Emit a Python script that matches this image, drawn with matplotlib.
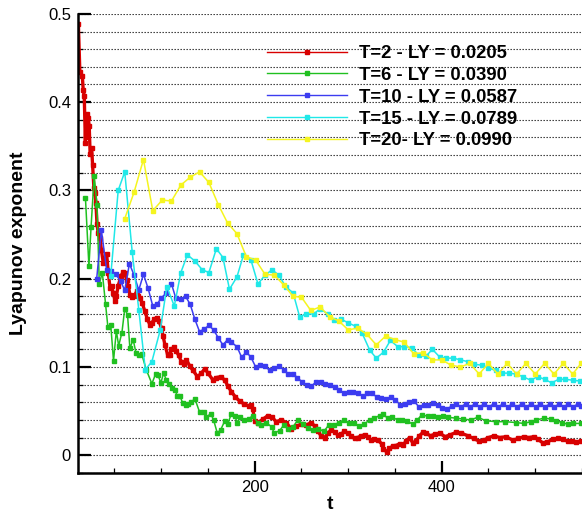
import numpy as np
import matplotlib
matplotlib.use("Agg")
import matplotlib.pyplot as plt
from matplotlib.ticker import MultipleLocator, FixedLocator

plt.rcParams["font.family"] = ["Liberation Sans", "DejaVu Sans"]

# ---- data ----
t_T2 = [11.4, 13, 15.6, 16.6, 17.7, 18.9, 19.5, 20.4, 20.9, 22, 23, 24, 25.6, 26.6, 28, 29,
        30.2, 31.3, 32.6, 34.5, 36, 38, 39.8, 41.6, 43.4, 45.2, 47, 48.7, 50.5, 52, 54, 57,
        59.4, 61, 63, 64.8, 66.5, 68.3, 70, 72, 74, 75.5, 77, 79.6, 82.5, 85.3, 87.8, 90,
        92.5, 95, 97.5, 100.4, 102, 104, 106.8, 109, 111, 114, 116, 118.8, 121.5, 124, 127,
        130.6, 134, 138.8, 143, 146.6, 150, 155.5, 159, 163.7, 168, 171.5, 175, 179.4, 184,
        189, 193.6, 196.5, 198, 200, 203.5, 209, 214.2, 218.5, 223, 228.5, 233.7, 239, 244.5,
        250, 255, 260.5, 264, 267.6, 271, 274.8, 278.3, 282, 285.5, 289, 292.5, 296, 299.5,
        303, 306.8, 310, 314, 317.5, 321, 324.6, 328, 332, 335.6, 337.5, 341, 344, 347.6, 351,
        355, 358.5, 362, 365.6, 369, 372.5, 376, 380, 383, 388, 393, 398, 403.5, 409, 415.5,
        421, 428, 434, 440, 445, 450, 456, 462, 468.8, 476, 482, 488, 493, 499, 503, 508, 513,
        518.6, 524, 529.4, 534.6, 539, 543.6, 549]
ly_T2 = [0.489, 0.434, 0.430, 0.414, 0.407, 0.354, 0.384, 0.361, 0.387, 0.382, 0.373, 0.341,
         0.348, 0.329, 0.303, 0.297, 0.286, 0.262, 0.252, 0.246, 0.233, 0.218, 0.220, 0.228,
         0.207, 0.190, 0.192, 0.184, 0.175, 0.180, 0.192, 0.203, 0.208, 0.206, 0.199, 0.192,
         0.182, 0.179, 0.180, 0.182, 0.186, 0.180, 0.178, 0.173, 0.163, 0.154, 0.148, 0.150,
         0.154, 0.156, 0.152, 0.144, 0.135, 0.125, 0.114, 0.113, 0.120, 0.123, 0.118, 0.113,
         0.106, 0.103, 0.108, 0.101, 0.096, 0.089, 0.093, 0.098, 0.093, 0.085, 0.088, 0.089,
         0.085, 0.078, 0.072, 0.066, 0.061, 0.058, 0.056, 0.057, 0.052, 0.039, 0.037, 0.041,
         0.045, 0.043, 0.038, 0.040, 0.037, 0.030, 0.033, 0.035, 0.034, 0.037, 0.033, 0.027,
         0.022, 0.020, 0.025, 0.029, 0.026, 0.023, 0.024, 0.027, 0.025, 0.022, 0.019, 0.020,
         0.022, 0.023, 0.021, 0.017, 0.018, 0.017, 0.013, 0.007, 0.004, 0.008, 0.010, 0.011,
         0.013, 0.012, 0.016, 0.020, 0.014, 0.016, 0.022, 0.026, 0.025, 0.022, 0.024, 0.025,
         0.021, 0.023, 0.026, 0.025, 0.022, 0.019, 0.016, 0.017, 0.020, 0.022, 0.020, 0.021,
         0.017, 0.019, 0.021, 0.020, 0.021, 0.018, 0.014, 0.015, 0.018, 0.019, 0.018, 0.016,
         0.016, 0.015, 0.016]

t_T6 = [19, 22.7, 25, 28.3, 31.3, 33.8, 37, 40.5, 43, 46, 49, 52, 54.5, 58, 61, 64, 66.5, 70,
        73, 76, 79, 84, 90, 94, 96.5, 99.6, 102.6, 105.6, 108.5, 111.7, 114.6, 117.4, 120,
        123, 126, 129, 132, 136, 141, 146, 148, 153, 156, 160, 163.7, 168, 171, 175, 178.9,
        181.5, 184, 189, 193.6, 198, 203, 207, 212.5, 218, 221, 226.7, 231, 235.5, 241, 246,
        251.6, 257, 262, 268, 274, 279, 284.7, 289.7, 295.4, 300.4, 306, 311, 316.7, 323, 328,
        333.5, 337, 342, 347, 353, 358, 363, 369, 374, 378.7, 385, 391, 396, 401, 407, 415,
        422.5, 431, 438.5, 447.5, 458, 468, 479.5, 488, 495, 501, 509.7, 517, 522, 529, 534.6,
        540, 549]
ly_T6 = [0.291, 0.214, 0.259, 0.316, 0.284, 0.194, 0.207, 0.171, 0.145, 0.148, 0.107, 0.141,
         0.124, 0.139, 0.166, 0.159, 0.121, 0.131, 0.116, 0.114, 0.115, 0.097, 0.081, 0.092,
         0.091, 0.082, 0.093, 0.085, 0.081, 0.076, 0.074, 0.067, 0.067, 0.059, 0.057, 0.058,
         0.060, 0.064, 0.049, 0.049, 0.043, 0.047, 0.040, 0.025, 0.029, 0.039, 0.035, 0.047,
         0.044, 0.036, 0.043, 0.040, 0.041, 0.045, 0.037, 0.034, 0.037, 0.032, 0.025, 0.028,
         0.034, 0.030, 0.032, 0.040, 0.035, 0.031, 0.029, 0.030, 0.027, 0.034, 0.034, 0.037,
         0.040, 0.037, 0.036, 0.033, 0.035, 0.040, 0.042, 0.045, 0.047, 0.042, 0.043, 0.040,
         0.040, 0.039, 0.035, 0.040, 0.046, 0.044, 0.045, 0.043, 0.045, 0.043, 0.042, 0.041,
         0.040, 0.043, 0.039, 0.038, 0.038, 0.037, 0.036, 0.038, 0.040, 0.042, 0.041, 0.039,
         0.037, 0.035, 0.036, 0.036]

t_T10 = [31, 36, 41.6, 46, 51.5, 56.6, 61, 66, 71, 76, 81, 86, 91, 95.5, 100, 105.6, 111,
         115.6, 121, 126, 131, 136, 141, 146, 151, 156, 161, 166, 171, 175, 181, 186, 191, 196,
         201, 206, 211, 216, 221, 226, 231, 236, 241, 245.6, 250.5, 255.5, 260.5, 265.5, 270.5,
         275.5, 280.5, 285.5, 290.5, 295.5, 300.5, 305.5, 310.5, 315.5, 320.5, 325.5, 330.5,
         335.5, 340.5, 345.5, 350.5, 355.5, 360.5, 365.5, 370.5, 375.5, 380.5, 385.5, 390.5,
         395.5, 400.5, 405.5, 410.5, 415.5, 420.5, 425.5, 430.5, 435.5, 440.5, 445.5, 450.5,
         455.5, 460.5, 465.5, 470.5, 475.5, 480.5, 485.5, 490.5, 495.5, 500.5, 505.5, 510.5,
         515.5, 520.5, 525.5, 530.5, 535.5, 540.5, 545.5, 549]
ly_T10 = [0.200, 0.255, 0.210, 0.209, 0.205, 0.197, 0.187, 0.217, 0.204, 0.187, 0.205, 0.189,
          0.169, 0.171, 0.178, 0.184, 0.194, 0.178, 0.177, 0.180, 0.171, 0.154, 0.140, 0.143,
          0.147, 0.142, 0.133, 0.125, 0.131, 0.128, 0.123, 0.111, 0.117, 0.111, 0.100, 0.102,
          0.101, 0.096, 0.099, 0.101, 0.097, 0.092, 0.092, 0.088, 0.083, 0.080, 0.078, 0.083,
          0.083, 0.081, 0.079, 0.077, 0.074, 0.070, 0.072, 0.072, 0.071, 0.067, 0.070, 0.070,
          0.066, 0.065, 0.064, 0.066, 0.063, 0.057, 0.058, 0.060, 0.061, 0.055, 0.057, 0.057,
          0.059, 0.057, 0.054, 0.0525, 0.0555, 0.058, 0.055, 0.058, 0.055, 0.058, 0.055, 0.058,
          0.055, 0.058, 0.055, 0.058, 0.055, 0.058, 0.055, 0.058, 0.055, 0.058, 0.055, 0.058,
          0.055, 0.058, 0.055, 0.058, 0.055, 0.058, 0.055, 0.058, 0.056]

t_T15 = [46, 54, 61, 69, 76, 83, 90, 99, 106, 114, 121, 128, 136, 144, 151, 159, 166, 173, 181,
         188, 196, 203.5, 211, 218.5, 226, 233, 241, 248, 255, 263, 270, 278, 285, 292.6, 300,
         308, 315, 323, 330, 338, 345, 353, 360, 368, 375.5, 383, 390, 398, 405, 412.5, 420,
         428, 435, 443, 450, 457.5, 464.5, 472, 479, 487, 495, 502.6, 510, 517.5, 525, 532,
         540, 548]
ly_T15 = [0.203, 0.300, 0.321, 0.230, 0.165, 0.097, 0.106, 0.142, 0.191, 0.169, 0.207, 0.227,
          0.220, 0.210, 0.207, 0.234, 0.224, 0.188, 0.202, 0.227, 0.221, 0.194, 0.204, 0.210,
          0.204, 0.191, 0.184, 0.157, 0.160, 0.160, 0.166, 0.160, 0.153, 0.154, 0.150, 0.146,
          0.138, 0.119, 0.110, 0.117, 0.130, 0.123, 0.123, 0.122, 0.113, 0.112, 0.120, 0.111,
          0.110, 0.110, 0.108, 0.106, 0.103, 0.102, 0.099, 0.096, 0.093, 0.093, 0.092, 0.089,
          0.085, 0.089, 0.086, 0.082, 0.086, 0.086, 0.085, 0.084]

t_T20 = [61, 71, 81, 91, 101, 111, 121, 131, 141, 151, 161, 171, 181, 191, 201, 211, 221, 231,
         241, 250, 260, 270, 280, 290, 300, 310, 320, 330, 340, 350, 360, 370, 380, 390, 400,
         410, 420, 430, 440, 450, 460, 470, 480, 490, 500, 510, 520, 530, 540, 549]
ly_T20 = [0.268, 0.298, 0.335, 0.277, 0.289, 0.288, 0.306, 0.315, 0.321, 0.309, 0.284, 0.263,
          0.251, 0.225, 0.221, 0.205, 0.204, 0.193, 0.180, 0.179, 0.164, 0.168, 0.157, 0.152,
          0.142, 0.144, 0.137, 0.125, 0.135, 0.131, 0.128, 0.115, 0.116, 0.108, 0.108, 0.102,
          0.100, 0.104, 0.092, 0.104, 0.092, 0.104, 0.092, 0.104, 0.092, 0.104, 0.092, 0.104,
          0.092, 0.104]

labels = ["T=2 - LY = 0.0205", "T=6 - LY = 0.0390", "T=10 - LY = 0.0587",
          "T=15 - LY = 0.0789", "T=20- LY = 0.0990"]
colors = ["#d80000", "#20c020", "#3c3cf0", "#20e8e8", "#f5f520"]


def main():
    fig = plt.figure(figsize=(5.82, 5.14), dpi=100)
    ax = fig.add_axes([0.134, 0.080, 0.866, 0.893])

    series = [(t_T2, ly_T2), (t_T6, ly_T6), (t_T10, ly_T10), (t_T15, ly_T15), (t_T20, ly_T20)]
    lws = [2.4, 1.1, 1.1, 1.1, 1.1]
    for (t, ly), lab, c, lw in zip(series, labels, colors, lws):
        ax.plot(t, ly, color=c, lw=lw, marker="s", ms=2.6, mec=c, mfc=c, label=lab)

    ax.set_xlim(11, 550)
    ax.set_ylim(-0.02, 0.5)

    # y ticks: major every 0.1, minor every 0.02, all inward
    ax.yaxis.set_major_locator(FixedLocator([0, 0.1, 0.2, 0.3, 0.4, 0.5]))
    ax.set_yticklabels(["0", "0.1", "0.2", "0.3", "0.4", "0.5"])
    ax.yaxis.set_minor_locator(MultipleLocator(0.02))
    ax.xaxis.set_major_locator(FixedLocator([200, 400]))
    ax.xaxis.set_minor_locator(MultipleLocator(50))
    ax.tick_params(which="major", direction="in", length=9, width=1.6, labelsize=12, pad=5)
    ax.tick_params(which="minor", direction="in", length=3.5, width=0.9)
    ax.tick_params(top=False, right=False, which="both")

    ax.yaxis.grid(True, which="both", color="#222222", ls=(0, (1.2, 1.5)), lw=0.8)
    ax.set_axisbelow(True)

    for s in ["top", "right"]:
        ax.spines[s].set_visible(False)
    for s in ["left", "bottom"]:
        ax.spines[s].set_linewidth(1.8)

    ax.set_xlabel("t", fontsize=14, fontweight="bold", labelpad=1)
    ax.set_ylabel("Lyapunov exponent", fontsize=14, fontweight="bold", labelpad=15)

    leg = ax.legend(loc="upper left", bbox_to_anchor=(0.357, 0.952), frameon=False,
                    prop={"weight": "bold", "size": 13.3}, handlelength=4.3,
                    handletextpad=0.65, labelspacing=0.26, numpoints=1, borderpad=0)
    for h in leg.get_lines():
        h.set_linewidth(1.0)

    fig.savefig("out.png", dpi=100)


if __name__ == "__main__":
    main()
